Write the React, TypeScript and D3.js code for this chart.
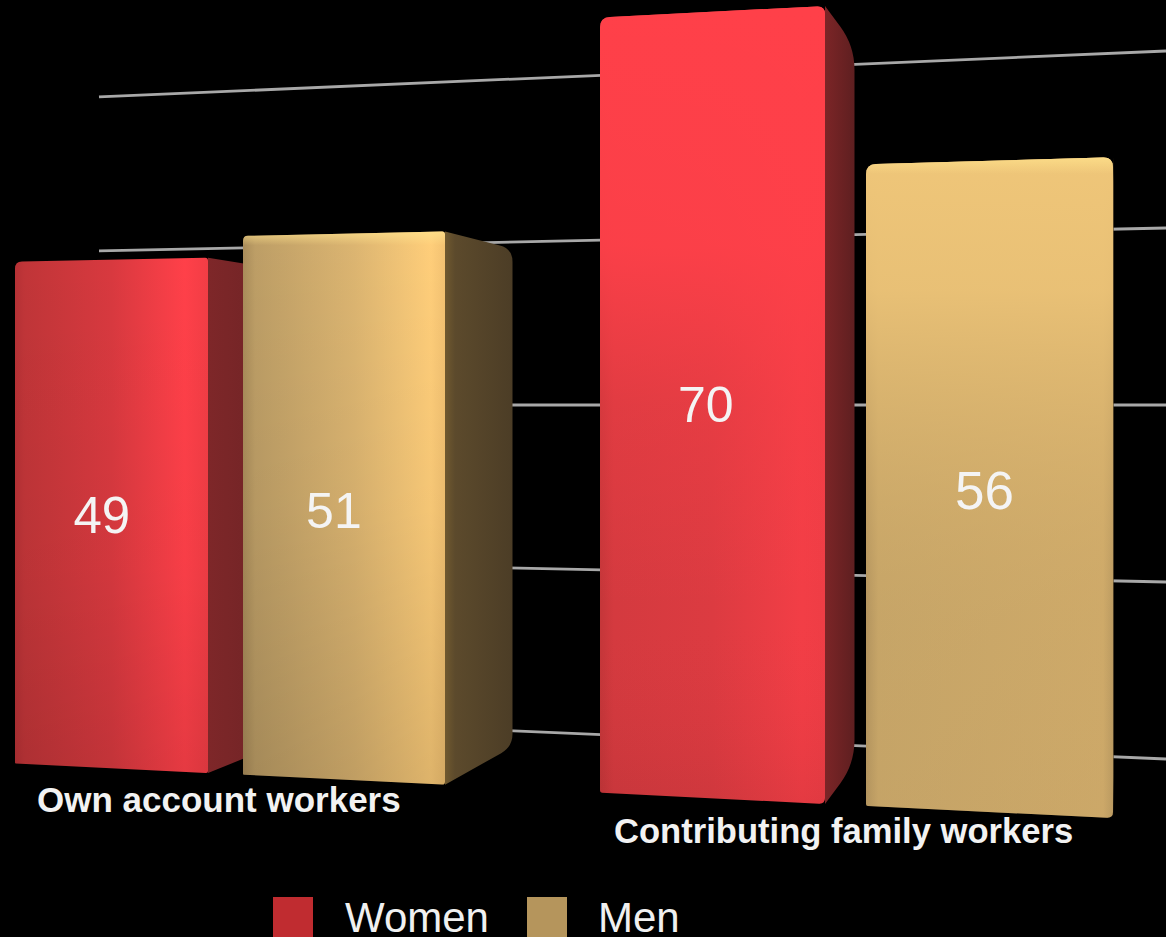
import React from "react";
import * as d3 from "d3";

// Share of workers by employment status and sex
const categories = ["Own account workers", "Contributing family workers"];
const seriesNames = ["Women", "Men"];
const women = [49, 70];
const men = [51, 56];
const gridValues = [5, 20, 35, 50, 65];

const WIDTH = 1166;
const HEIGHT = 937;
const HORIZON_Y = 405;
const EYE_VALUE = 35;
const VANISH_X = 1120;
const DEPTH = 0.9;

// Screen x of every bar edge, in left-to-right order (bars are wider nearer the viewer)
const edgeX = d3
  .scaleLinear()
  .domain(d3.range(8))
  .range([15, 208, 243, 445, 600, 825, 866, 1113]);
// Pixels per value unit on the bars' front plane and on the rear wall
const frontScale = d3.scaleLinear().domain([15, 445, 825, 1113]).range([10.24, 10.85, 11.4, 11.8]);
const wallScale = d3.scaleLinear().domain([99, 1166]).range([10.27, 11.8]);

type Pt = [number, number];
const front = (x: number, v: number): Pt => [x, HORIZON_Y + frontScale(x) * (EYE_VALUE - v)];
const wall = (x: number, v: number): Pt => [x, HORIZON_Y + wallScale(x) * (EYE_VALUE - v)];
const recede = ([x, y]: Pt): Pt => [
  VANISH_X + DEPTH * (x - VANISH_X),
  HORIZON_Y + DEPTH * (y - HORIZON_Y),
];

// Closed polygon whose corners are rounded by the per-corner radii
function rounded(pts: Pt[], radii: number[]): string {
  const n = pts.length;
  let d = "";
  pts.forEach((p, i) => {
    const a = pts[(i + n - 1) % n];
    const b = pts[(i + 1) % n];
    const r = radii[i];
    const toward = (q: Pt): Pt => {
      const len = Math.hypot(q[0] - p[0], q[1] - p[1]) || 1;
      const k = Math.min(r, len / 2) / len;
      return [p[0] + (q[0] - p[0]) * k, p[1] + (q[1] - p[1]) * k];
    };
    const s = toward(a);
    const e = toward(b);
    d += `${i === 0 ? "M" : "L"}${s[0]},${s[1]}Q${p[0]},${p[1]} ${e[0]},${e[1]}`;
  });
  return d + "Z";
}

type Stop = [number, string, number?];
const barLook: {
  across: Stop[];
  down: Stop[];
  side: Stop[];
  sideRound: number;
  frontRound: number[];
  labelAt: number;
  labelSize: number;
  labelDy: number;
}[] = [
  {
    across: [[0, "#b53135"], [0.05, "#c03538"], [0.5, "#d8393f"], [0.88, "#ff4049"], [1, "#f23d45"]],
    down: [[0, "#000", 0], [0.6, "#000", 0.03], [1, "#000", 0.1]],
    side: [[0, "#7e2729"], [1, "#6a2224"]],
    sideRound: 8,
    frontRound: [7, 3, 2, 1],
    labelAt: 0.45,
    labelSize: 51,
    labelDy: 19,
  },
  {
    across: [[0, "#a98c5a"], [0.06, "#bd9e66"], [0.55, "#dcb571"], [0.93, "#ffce7a"], [1, "#f3c272"]],
    down: [[0, "#000", 0], [0.5, "#000", 0.04], [1, "#000", 0.13]],
    side: [[0, "#70592f"], [0.15, "#5c4a2c"], [1, "#4c3d26"]],
    sideRound: 13,
    frontRound: [5, 3, 3, 1],
    labelAt: 0.45,
    labelSize: 50,
    labelDy: 21,
  },
  {
    across: [[0, "#c43639"], [0.06, "#d43a3f"], [0.5, "#dc3b41"], [0.9, "#f23e46"], [1, "#ee3d45"]],
    down: [[0, "#ff4049", 1], [0.3, "#ff4049", 0.9], [0.5, "#ff4049", 0.3], [0.75, "#ff4049", 0], [1, "#000", 0.06]],
    side: [[0, "#7c2527"], [1, "#5e1f20"]],
    sideRound: 24,
    frontRound: [10, 8, 6, 2],
    labelAt: 0.47,
    labelSize: 50,
    labelDy: 17,
  },
  {
    across: [[0, "#ad8f5c"], [0.05, "#c6a568"], [0.96, "#d0ab6a"], [1, "#b89860"]],
    down: [[0, "#efc679", 1], [0.2, "#ecc377", 0.9], [0.7, "#c8a566", 0.25], [1, "#c2a064", 0.3]],
    side: [[0, "#8a7344"], [1, "#5c4a2c"]],
    sideRound: 3,
    frontRound: [10, 10, 6, 2],
    labelAt: 0.48,
    labelSize: 53,
    labelDy: 23,
  },
];

const bars = categories.flatMap((category, g) =>
  seriesNames.map((name, s) => {
    const slot = g * 2 + s;
    const value = (s === 0 ? women : men)[g];
    return { category, name, slot, value, x0: edgeX(slot * 2), x1: edgeX(slot * 2 + 1) };
  })
);

const labelFont = "'Liberation Sans', Arial, sans-serif";

function Grads() {
  return (
    <defs>
      <linearGradient id="rim" x1="0" x2="0" y1="0" y2="1">
        <stop offset="0" stopColor="#ffe28c" stopOpacity={0.75} />
        <stop offset="0.025" stopColor="#ffe28c" stopOpacity={0} />
      </linearGradient>
      {barLook.map((look, i) => (
        <React.Fragment key={i}>
          <linearGradient id={`across${i}`} x1="0" x2="1" y1="0" y2="0">
            {look.across.map(([o, c], k) => (
              <stop key={k} offset={o} stopColor={c} />
            ))}
          </linearGradient>
          <linearGradient id={`down${i}`} x1="0" x2="0" y1="0" y2="1">
            {look.down.map(([o, c, a], k) => (
              <stop key={k} offset={o} stopColor={c} stopOpacity={a} />
            ))}
          </linearGradient>
          <linearGradient id={`side${i}`} x1="0" x2="1" y1="0" y2="0">
            {look.side.map(([o, c], k) => (
              <stop key={k} offset={o} stopColor={c} />
            ))}
          </linearGradient>
        </React.Fragment>
      ))}
    </defs>
  );
}

export default function App() {
  return (
    <svg
      width={WIDTH}
      height={HEIGHT}
      viewBox={`0 0 ${WIDTH} ${HEIGHT}`}
      style={{ position: "fixed", left: 0, top: 0, background: "#000", display: "block" }}
    >
      <Grads />
      <rect width={WIDTH} height={HEIGHT} fill="#000" />

      {gridValues.map((v) => {
        const a = wall(99, v);
        const b = wall(WIDTH, v);
        return (
          <line key={v} x1={a[0]} y1={a[1]} x2={b[0]} y2={b[1]} stroke="#a8a8a8" strokeWidth={2.8} />
        );
      })}

      {bars.map((b, i) => {
        const tl = front(b.x0, b.value);
        const tr = front(b.x1, b.value);
        const br = front(b.x1, 0);
        const bl = front(b.x0, 0);
        const look = barLook[i];
        const r = look.sideRound;
        const sidePath = rounded([tr, recede(tr), recede(br), br], [0, r, r, 0]);
        const frontPath = rounded([tl, tr, br, bl], look.frontRound);
        const mid = front(b.x0 + (b.x1 - b.x0) * look.labelAt, b.value / 2);
        return (
          <g key={b.name + b.category}>
            <path d={sidePath} fill={`url(#side${i})`} />
            <path d={frontPath} fill={`url(#across${i})`} />
            <path d={frontPath} fill={`url(#down${i})`} />
            {b.name === "Men" && <path d={frontPath} fill="url(#rim)" />}
            <text
              x={mid[0]}
              y={mid[1] + look.labelDy}
              textAnchor="middle"
              fill="#f4f4f4"
              fontFamily={labelFont}
              fontSize={look.labelSize}
            >
              {b.value}
            </text>
          </g>
        );
      })}

      <text x={37} y={812} fill="#f2f2f2" fontFamily={labelFont} fontWeight={700} fontSize={35}>
        {categories[0]}
      </text>
      <text x={614} y={843} fill="#f2f2f2" fontFamily={labelFont} fontWeight={700} fontSize={34.6}>
        {categories[1]}
      </text>

      {seriesNames.map((name, i) => (
        <g key={name}>
          <rect x={273 + i * 254} y={897} width={40} height={40} fill={i === 0 ? "#c02c30" : "#b5955c"} />
          <text x={345 + i * 253} y={932} fill="#f0f0f0" fontFamily={labelFont} fontSize={42}>
            {name}
          </text>
        </g>
      ))}
    </svg>
  );
}
